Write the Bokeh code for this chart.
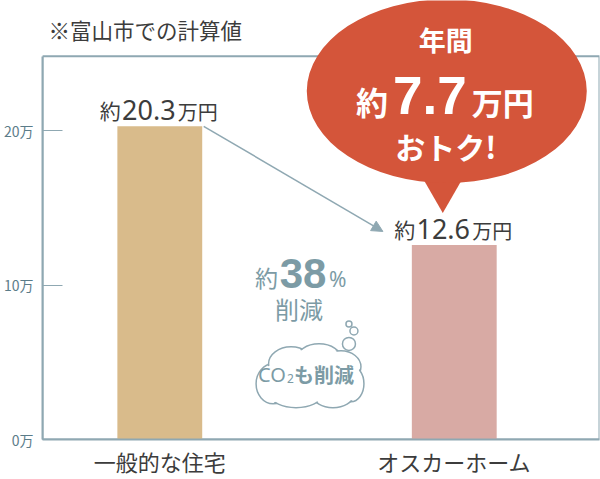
from bokeh.plotting import figure
from bokeh.models import ColumnDataSource, FixedTicker, Arrow, NormalHead, Label, Range1d
from bokeh.core.properties import value
from bokeh.embed import file_html
from bokeh.resources import INLINE

# ---- data ----
categories = ["一般的な住宅", "オスカーホーム"]
costs = [20.3, 12.6]            # 年間光熱費（万円）
bar_colors = ["#d9bb8b", "#d8aaa4"]
y_ticks = [0, 10, 20]
y_tick_labels = ["0万", "10万", "20万"]
saving = "7.7"
reduction = "38"
note = "※富山市での計算値"

# ---- styles ----
AX = "#8fa8b2"
TEAL = "#7c9ba5"
TICK_TXT = "#5b7c89"
DARK = "#3c3c3c"
RED = "#d4553a"
JP = "Noto Sans CJK JP"
NUM = "Noto Sans"
BOLDNUM = "Liberation Sans"

# pixel <-> data helpers (picture coordinates)
PX_PER_Y = 15.5
Y0_PX = 441
X1_PX, X_UNIT = 158.5, 295.0
def ydat(py):
    return (Y0_PX - py) / PX_PER_Y
def xdat(px):
    return 1 + (px - X1_PX) / X_UNIT

x_start, x_end = xdat(41), xdat(599)
BOX_TOP = ydat(56)
BAR_W = 85 / X_UNIT

p = figure(width=600, height=479, output_backend="svg", toolbar_location=None,
           x_range=Range1d(x_start, x_end), y_range=Range1d(0, ydat(0)),
           min_border_left=41, min_border_right=1, min_border_top=0, min_border_bottom=38)
p.outline_line_color = None
p.grid.visible = False
p.background_fill_color = "white"
p.border_fill_color = "white"

# y axis
p.yaxis.ticker = FixedTicker(ticks=y_ticks)
p.yaxis.major_label_overrides = dict(zip(y_ticks, y_tick_labels))
p.yaxis.bounds = (0, BOX_TOP)
p.yaxis.axis_line_color = AX
p.yaxis.axis_line_width = 2
p.yaxis.major_tick_in = 20
p.yaxis.major_tick_out = 0
p.yaxis.major_tick_line_color = AX
p.yaxis.minor_tick_line_color = None
p.yaxis.major_label_standoff = 9
p.yaxis.major_label_text_font = JP
p.yaxis.major_label_text_font_size = "14px"
p.yaxis.major_label_text_color = TICK_TXT

# x axis
xs = [i + 1 for i in range(len(categories))]
p.xaxis.ticker = FixedTicker(ticks=xs)
p.xaxis.major_label_overrides = dict(zip(xs, categories))
p.xaxis.axis_line_color = AX
p.xaxis.axis_line_width = 2
p.xaxis.major_tick_line_color = None
p.xaxis.major_tick_out = 0
p.xaxis.major_tick_in = 0
p.xaxis.minor_tick_line_color = None
p.xaxis.major_label_standoff = 5
p.xaxis.major_label_text_font = JP
p.xaxis.major_label_text_font_size = "22px"
p.xaxis.major_label_text_color = DARK

# box (top / right edges)
p.quad(left=[x_start], right=[x_end], bottom=[0], top=[BOX_TOP],
       fill_color=None, line_color=AX, line_width=2)

# bars
src = ColumnDataSource(dict(x=xs, cost=costs, color=bar_colors,
                            num=[f"{c:.1f}" for c in costs]))
p.vbar(x="x", top="cost", width=BAR_W, bottom=0, fill_color="color",
       line_color=None, source=src)

# value labels
NOFF = -11
YOFF = -16
p.text(x="x", y="cost", text="num", source=src, x_offset=NOFF, y_offset=YOFF,
       text_align="center", text_baseline="middle",
       text_font=value(NUM), text_font_size="27px", text_color=DARK)
p.text(x="x", y="cost", text=value("約"), source=src, x_offset=NOFF - 28, y_offset=YOFF,
       text_align="right", text_baseline="middle",
       text_font=value(JP), text_font_size="21px", text_color=DARK)
p.text(x="x", y="cost", text=value("万円"), source=src, x_offset=NOFF + 29, y_offset=YOFF + 1,
       text_align="left", text_baseline="middle",
       text_font=value(JP), text_font_size="20px", text_color=DARK)

# arrow from bar 1 to bar 2 label
p.add_layout(Arrow(end=NormalHead(size=11, fill_color=AX, line_color=AX),
                   x_start=xs[0] + BAR_W / 2 + 0.005, y_start=costs[0],
                   x_end=xdat(382), y_end=ydat(232),
                   line_color=AX, line_width=1.5))

# speech bubble
p.scatter(x=[xdat(442)], y=[ydat(189)], marker="inverted_triangle", size=42,
          fill_color=RED, line_color=None)
p.ellipse(x=[xdat(446)], y=[ydat(91)], width=280, height=184,
          width_units="screen", height_units="screen",
          fill_color=RED, line_color=None)

def lab(px, py, text, size, color, font=JP, align="left", baseline="middle", style="normal"):
    p.add_layout(Label(x=xdat(px), y=ydat(py), text=text, text_align=align,
                       text_baseline=baseline, text_font=font,
                       text_font_size=f"{size}px", text_color=color,
                       text_font_style=style))

lab(445, 39, "年間", 27, "white", align="center", style="bold")
lab(387, 101, "約", 32, "white", align="right", style="bold")
lab(429, 95, saving, 53, "white", font=BOLDNUM, align="center", style="bold")
lab(471, 101, "万円", 31, "white", style="bold")
lab(445, 146, "おトク!", 30, "white", align="center", style="bold")

# title note
lab(47, 29, note, 21.5, DARK)

# 約38%削減
lab(277, 278, "約", 23, TEAL, align="right")
lab(302, 274, reduction, 42, TEAL, font=BOLDNUM, align="center", style="bold")
lab(328, 280, "%", 21, TEAL, font=NUM)
lab(298, 309, "削減", 24, TEAL, align="center")

# cloud
CLOUD = [(272, 385, 34, 40), (290, 365, 45, 34), (318, 360, 45, 30),
         (340, 368, 40, 32), (350, 385, 26, 36), (332, 397, 40, 24),
         (295, 397, 50, 24)]
cx = [xdat(c[0]) for c in CLOUD]
cy = [ydat(c[1]) for c in CLOUD]
cw = [c[2] for c in CLOUD]
chh = [c[3] for c in CLOUD]
p.ellipse(x=cx, y=cy, width=cw, height=chh, width_units="screen", height_units="screen",
          fill_color="white", line_color=AX, line_width=1.5)
p.ellipse(x=cx, y=cy, width=[w - 3 for w in cw], height=[h - 3 for h in chh],
          width_units="screen", height_units="screen",
          fill_color="white", line_color=None)
p.ellipse(x=[xdat(310)], y=[ydat(380)], width=80, height=36,
          width_units="screen", height_units="screen",
          fill_color="white", line_color=None)
BUBBLES = [(348, 345, 13), (353, 332, 8), (348, 325, 6)]
p.ellipse(x=[xdat(b[0]) for b in BUBBLES], y=[ydat(b[1]) for b in BUBBLES],
          width=[b[2] for b in BUBBLES], height=[b[2] for b in BUBBLES],
          width_units="screen", height_units="screen",
          fill_color="white", line_color=AX, line_width=1.5)

lab(257, 376, "CO", 20, TEAL, font=NUM)
lab(286, 380, "2", 12, TEAL, font=NUM)
lab(293, 376, "も削減", 20, TEAL, style="bold")

open("out.html", "w").write(file_html(p, INLINE))
